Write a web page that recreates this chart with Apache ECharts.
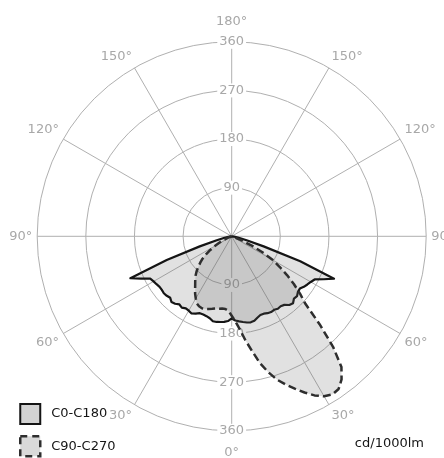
<!DOCTYPE html>
<html>
<head>
<meta charset="utf-8">
<script src="https://cdn.jsdelivr.net/npm/echarts@6/dist/echarts.min.js"></script>
<style>
  html, body { margin: 0; padding: 0; background: #fff; }
  #chart { width: 444px; height: 458px; }
</style>
</head>
<body>
<div id="chart"></div>
<script>
// Gamma angles measured from the nadir (degrees)
const gammaAngles = [0, 2.5, 5, 7.5, 10, 12.5, 15, 17.5, 20, 22.5, 25, 27.5, 30, 32.5, 35, 37.5,
  40, 42.5, 45, 47.5, 50, 52.5, 55, 57.5, 60, 62.5, 65, 67.5, 70, 72.5, 75, 77.5, 80, 82.5, 85, 87.5, 90];

// Luminous intensity, cd/1000lm, per half plane
const c0 = [152, 156, 158, 160, 162, 163, 162, 158, 155, 155, 157, 158, 157, 159, 158, 160,
  166, 168, 163, 164, 160, 159, 163, 166, 169, 173, 188, 205, 135, 62, 30, 15, 8, 4, 2, 1, 0];
const c180 = [152, 157, 159, 160, 161, 161, 157, 155, 154, 154, 158, 161, 159, 158, 161, 159,
  163, 165, 161, 163, 164, 163, 163, 165, 167, 170, 185, 203, 128, 62, 30, 15, 8, 4, 2, 1, 0];
const c90 = [147, 158, 173, 194, 215, 240, 260, 278, 292, 305, 319, 332, 342, 347, 345, 334,
  316, 278, 230, 185, 165, 145, 125, 105, 88, 65, 42, 20, 8, 3, 1, 0, 0, 0, 0, 0, 0];
const c270 = [147, 138, 135, 135, 136, 137, 139, 141, 143, 144, 143, 140, 133, 126, 118, 111,
  105, 99, 92, 84, 76, 68, 58, 47, 36, 26, 17, 10, 5, 2, 1, 0, 0, 0, 0, 0, 0];

const ringTicks = [90, 180, 270, 360];
const planeNames = ['C0-C180', 'C90-C270'];
const unitLabel = 'cd/1000lm';

const FONT = 'DejaVu Sans';
const GRID = '#b0b0b0';
const LABEL = '#a8a8a8';
const INK = '#151515';
const DASH_INK = '#2e2e2e';
const CENTER = [231.7, 236.3];
const RADIUS = 194.5;

// Left half runs from the horizon down to the nadir, right half back up.
function planePoints(rightHalf, leftHalf) {
  const pts = [];
  for (let i = gammaAngles.length - 1; i >= 0; i--) pts.push([leftHalf[i], 360 - gammaAngles[i]]);
  for (let i = 1; i < gammaAngles.length; i++) pts.push([rightHalf[i], gammaAngles[i]]);
  return pts;
}

const ringLabelAxis = (polarIndex) => ({
  polarIndex: polarIndex,
  type: 'value', min: 0, max: ringTicks[ringTicks.length - 1], interval: ringTicks[0],
  z: 1,
  axisLine: { show: false },
  axisTick: { show: false },
  splitLine: { show: false },
  axisLabel: {
    showMinLabel: false,
    margin: 0,
    align: 'center',
    verticalAlign: 'middle',
    backgroundColor: '#fff',
    padding: [1, 2, 0, 2],
    color: LABEL,
    fontSize: 13,
    fontFamily: FONT
  }
});

const chart = echarts.init(document.getElementById('chart'), null, { renderer: 'canvas' });

chart.setOption({
  animation: false,
  backgroundColor: '#fff',
  title: {
    text: unitLabel,
    right: 15,
    top: 432,
    textStyle: { fontSize: 13, fontWeight: 'normal', color: INK, fontFamily: FONT }
  },
  legend: {
    orient: 'vertical',
    left: 19,
    top: 403,
    padding: 0,
    itemWidth: 20,
    itemHeight: 20,
    itemGap: 10,
    icon: 'rect',
    selectedMode: false,
    textStyle: { fontSize: 13, color: INK, fontFamily: FONT, padding: [0, 0, 0, 6] },
    data: [
      { name: planeNames[0], itemStyle: { color: '#d3d3d3', borderColor: INK, borderWidth: 2 } },
      { name: planeNames[1], itemStyle: { color: '#d9d9d9', borderColor: DASH_INK, borderWidth: 2.5, borderType: [7, 5] } }
    ]
  },
  polar: [
    { center: CENTER, radius: RADIUS },
    { center: CENTER, radius: RADIUS },
    { center: CENTER, radius: RADIUS }
  ],
  angleAxis: [
    {
      polarIndex: 0,
      type: 'value', min: 0, max: 360, interval: 30,
      startAngle: 270,
      clockwise: false,
      z: 0,
      axisLine: { show: false },
      axisTick: { show: false },
      splitLine: { show: true, lineStyle: { color: GRID, width: 1 } },
      axisLabel: {
        margin: 5,
        color: LABEL,
        fontSize: 13,
        fontFamily: FONT,
        formatter: function (v) {
          if (v >= 360) return '';
          const d = v <= 180 ? v : 360 - v;
          if (v === 180) return '{top|' + d + '°}';
          if (v === 0) return '{bot|' + d + '°}';
          return d + '°';
        },
        rich: {
          top: { padding: [0, 0, 9, 0], color: LABEL, fontSize: 13, fontFamily: FONT },
          bot: { padding: [10, 0, 0, 0], color: LABEL, fontSize: 13, fontFamily: FONT }
        }
      }
    },
    { polarIndex: 1, type: 'value', min: 0, max: 360, startAngle: 270, show: false },
    { polarIndex: 2, type: 'value', min: 0, max: 360, startAngle: 90, show: false }
  ],
  radiusAxis: [
    {
      polarIndex: 0,
      type: 'value', min: 0, max: ringTicks[ringTicks.length - 1], interval: ringTicks[0],
      z: 0,
      axisLine: { show: false },
      axisTick: { show: false },
      axisLabel: { show: false },
      splitLine: { show: true, lineStyle: { color: GRID, width: 1 } }
    },
    ringLabelAxis(1),
    ringLabelAxis(2)
  ],
  series: [
    {
      name: planeNames[0],
      type: 'line',
      coordinateSystem: 'polar',
      polarIndex: 0,
      data: planePoints(c0, c180),
      symbol: 'none',
      z: 3,
      itemStyle: { color: '#d3d3d3' },
      lineStyle: { color: INK, width: 2.2, join: 'round' },
      areaStyle: { color: 'rgba(93,93,93,0.27)' }
    },
    {
      name: planeNames[1],
      type: 'line',
      coordinateSystem: 'polar',
      polarIndex: 0,
      data: planePoints(c90, c270),
      symbol: 'none',
      z: 4,
      itemStyle: { color: '#d9d9d9' },
      lineStyle: { color: DASH_INK, width: 2.5, type: [8, 4], join: 'round' },
      areaStyle: { color: 'rgba(93,93,93,0.27)' }
    }
  ]
});
</script>
</body>
</html>
